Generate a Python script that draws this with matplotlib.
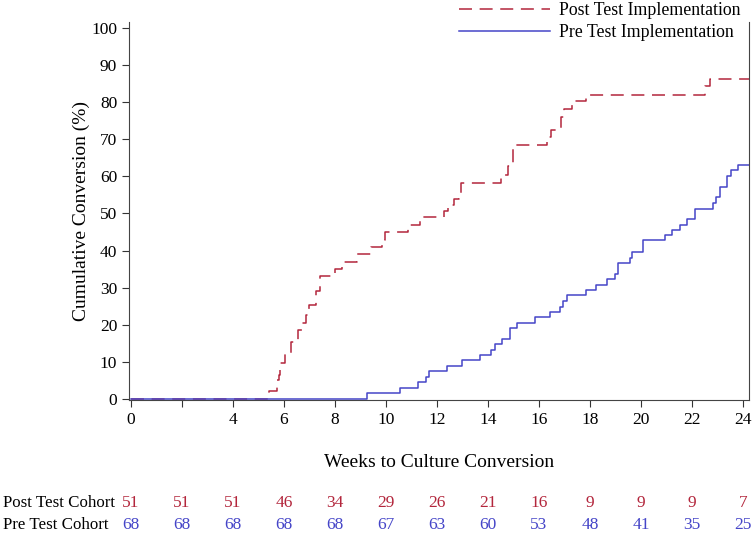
import numpy as np
import matplotlib
matplotlib.use("Agg")
import matplotlib.pyplot as plt

plt.rcParams['font.family'] = ['Liberation Serif', 'DejaVu Serif']

# Post test implementation: step times (weeks) and cumulative conversion (%)
postWeeks = [0, 5.43, 5.71, 5.80, 5.86, 6.03, 6.29, 6.55, 6.70, 6.88, 6.97, 7.27, 7.43,
             7.99, 8.29, 8.85, 9.43, 9.83, 9.95, 10.87, 11.33, 12.27, 12.45, 12.65,
             12.85, 12.95, 14.50, 14.77, 15.00, 16.30, 16.46, 16.85, 16.98, 17.30,
             17.84, 22.50, 22.70, 24.3]
postConv = [0, 2.0, 5.1, 6.5, 9.6, 12.3, 15.4, 18.6, 20.5, 22.7, 25.4, 29.2, 33.2,
            35.1, 37.0, 39.0, 40.9, 42.9, 45.0, 47.0, 48.9, 50.7, 52.3, 54.0,
            55.4, 58.3, 60.4, 62.7, 68.4, 70.5, 72.5, 76.1, 78.1, 80.2,
            82.0, 84.3, 86.1, 86.1]

# Pre test implementation
preWeeks = [0, 9.27, 10.54, 11.26, 11.56, 11.69, 12.40, 12.98, 13.70, 14.13, 14.29,
            14.57, 14.85, 15.12, 15.84, 16.42, 16.82, 16.95, 17.10, 17.83, 18.25,
            18.67, 18.97, 19.10, 19.56, 19.67, 20.08, 20.96, 21.23, 21.52, 21.81,
            22.11, 22.83, 22.96, 23.09, 23.38, 23.55, 23.81, 24.3]
preConv = [0, 1.5, 3.0, 4.5, 6.0, 7.6, 9.0, 10.5, 11.9, 13.3, 14.7,
           16.2, 19.1, 20.4, 22.0, 23.4, 24.9, 26.4, 28.1, 29.3, 30.8,
           32.2, 33.8, 36.7, 38.0, 39.7, 42.7, 44.1, 45.5, 47.0, 48.5,
           51.3, 52.9, 54.3, 57.2, 60.2, 61.6, 63.0, 63.0]

# number at risk
riskWeeks = [0, 2, 4, 6, 8, 10, 12, 14, 16, 18, 20, 22, 24]
postRisk = [51, 51, 51, 46, 34, 29, 26, 21, 16, 9, 9, 9, 7]
preRisk = [68, 68, 68, 68, 68, 67, 63, 60, 53, 48, 41, 35, 25]
xTickLabels = ['0', '', '4', '6', '8', '10', '12', '14', '16', '18', '20', '22', '24']

redCol = '#B3263C'
blueCol = '#4545C8'

fig = plt.figure(figsize=(7.52, 5.46), dpi=100)
ax = fig.add_axes([129/752, 1-400/546, (749-129)/752, (400-22)/546])

ax.step(postWeeks, postConv, where='post', color=redCol, lw=1.1,
        linestyle=(0, (8.5, 5)), label='Post Test Implementation')
ax.step(preWeeks, preConv, where='post', color=blueCol, lw=1.1,
        label='Pre Test Implementation')

ax.set_xlim(-0.08, 24.24)
ax.set_ylim(-0.3, 101.6)
ax.set_xticks(riskWeeks)
ax.set_xticklabels(xTickLabels)
ax.set_yticks(range(0, 101, 10))
ax.tick_params(direction='out', length=5, labelsize=12.5, color='#333333')
ax.spines['top'].set_visible(False)
for s in ['left', 'bottom', 'right']:
    ax.spines[s].set_color('#444444')
ax.set_xlabel('Weeks to Culture Conversion', fontsize=14, labelpad=19)
ax.set_ylabel('Cumulative Conversion (%)', fontsize=14)
ax.yaxis.set_label_coords(-0.063, 0.5)

fig.legend(loc='upper right', bbox_to_anchor=(1.006, 1.025), frameon=False,
           fontsize=12.8, handlelength=5.1, handletextpad=0.5, labelspacing=0.25)

# at-risk table under the axis
trans = matplotlib.transforms.blended_transform_factory(ax.transData, fig.transFigure)
for w, n in zip(riskWeeks, postRisk):
    ax.text(w, 1-503/546, str(n), transform=trans, ha='center', va='center',
            fontsize=12.5, color=redCol)
for w, n in zip(riskWeeks, preRisk):
    ax.text(w, 1-525/546, str(n), transform=trans, ha='center', va='center',
            fontsize=12.5, color=blueCol)
fig.text(3/752, 1-503/546, 'Post Test Cohort', ha='left', va='center', fontsize=12.2)
fig.text(3/752, 1-525/546, 'Pre Test Cohort', ha='left', va='center', fontsize=12.2)

fig.savefig('out.png', dpi=100)
